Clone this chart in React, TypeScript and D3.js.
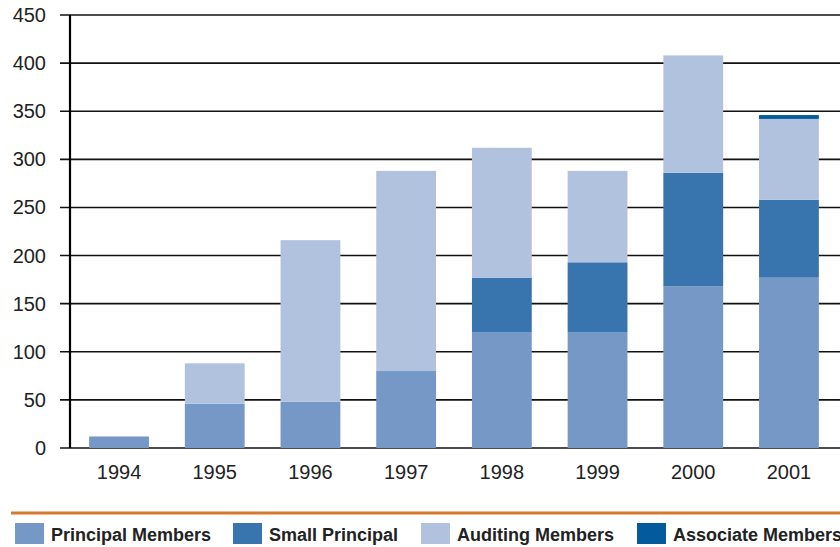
import React, { useEffect, useRef } from 'react';
import * as d3 from 'd3';

const years = ['1994', '1995', '1996', '1997', '1998', '1999', '2000', '2001'];
const principal = [12, 46, 48, 80, 120, 120, 168, 177];
const smallPrincipal = [0, 0, 0, 0, 57, 73, 118, 81];
const auditing = [0, 42, 168, 208, 135, 95, 122, 84];
const associate = [0, 0, 0, 0, 0, 0, 0, 4];
const yTicks = [0, 50, 100, 150, 200, 250, 300, 350, 400, 450];

const seriesNames = ['Principal Members', 'Small Principal', 'Auditing Members', 'Associate Members'];
const colors = ['#7598c6', '#3874ad', '#b1c2df', '#035b9d'];

const App = () => {
    const ref = useRef<SVGSVGElement>(null);

    useEffect(() => {
        const svg = d3.select(ref.current);
        svg.selectAll('*').remove();

        const font = '"Liberation Sans", Arial, Helvetica, sans-serif';

        const rows = years.map((year, i) => ({
            year,
            p: principal[i],
            s: smallPrincipal[i],
            a: auditing[i],
            as: associate[i],
        }));
        const stack = d3.stack<any>().keys(['p', 's', 'a', 'as'])(rows);

        const xScale = d3.scaleBand()
            .domain(years)
            .range([70, 838])
            .paddingInner(0.375)
            .paddingOuter(0.2);

        const yScale = d3.scaleLinear()
            .domain([0, 450])
            .range([448, 15]);

        // gridlines
        svg.append('g')
            .selectAll('line')
            .data(yTicks)
            .join('line')
            .attr('x1', 60)
            .attr('x2', 840)
            .attr('y1', d => yScale(d))
            .attr('y2', d => yScale(d))
            .style('stroke', '#111')
            .style('stroke-width', 1.6);

        // tick labels
        svg.append('g')
            .selectAll('text')
            .data(yTicks)
            .join('text')
            .attr('x', 46)
            .attr('y', d => yScale(d))
            .attr('dy', '0.35em')
            .attr('text-anchor', 'end')
            .style('font-family', font)
            .style('font-size', '20px')
            .style('fill', '#222')
            .text(d => d);

        // bars
        stack.forEach((layer, li) => {
            svg.append('g')
                .selectAll('rect')
                .data(layer.filter(d => d[1] - d[0] > 0))
                .join('rect')
                .attr('x', d => xScale(d.data.year)!)
                .attr('width', xScale.bandwidth())
                .attr('y', d => yScale(d[1]))
                .attr('height', d => yScale(d[0]) - yScale(d[1]))
                .style('fill', colors[li]);
        });

        // y axis line
        svg.append('line')
            .attr('x1', 70).attr('x2', 70)
            .attr('y1', yScale(450)).attr('y2', yScale(0))
            .style('stroke', '#000')
            .style('stroke-width', 2.2);

        // x labels
        svg.append('g')
            .selectAll('text')
            .data(years)
            .join('text')
            .attr('x', d => xScale(d)! + xScale.bandwidth() / 2)
            .attr('y', 479)
            .attr('text-anchor', 'middle')
            .style('font-family', font)
            .style('font-size', '20px')
            .style('fill', '#222')
            .text(d => d);

        // orange rule
        svg.append('line')
            .attr('x1', 11).attr('x2', 840)
            .attr('y1', 513).attr('y2', 513)
            .style('stroke', '#d8782a')
            .style('stroke-width', 3);

        // legend
        const legendX = [15, 233, 421, 637];
        const legend = svg.append('g')
            .selectAll('g')
            .data(seriesNames)
            .join('g')
            .attr('transform', (d, i) => `translate(${legendX[i]},523)`);
        legend.append('rect')
            .attr('width', 29)
            .attr('height', 21)
            .style('fill', (d, i) => colors[i]);
        legend.append('text')
            .attr('x', 36)
            .attr('y', 18)
            .style('font-family', font)
            .style('font-size', '18px')
            .style('font-weight', 'bold')
            .style('fill', '#222')
            .text(d => d);
    }, []);

    return (
        <svg ref={ref} width={840} height={547}
            style={{ position: 'absolute', left: 0, top: 0, background: '#fff' }} />
    );
};

export default App;
